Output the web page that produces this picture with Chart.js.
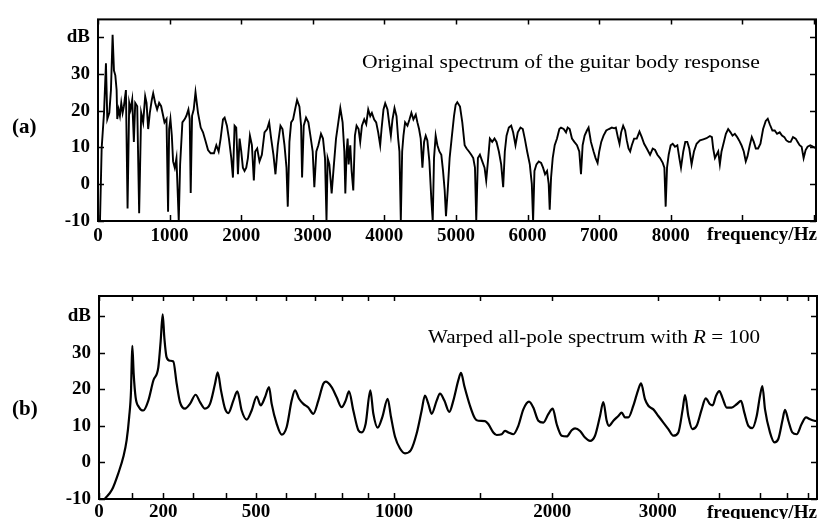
<!DOCTYPE html>
<html>
<head>
<meta charset="utf-8">
<script src="https://cdn.jsdelivr.net/npm/chart.js@4.4.0/dist/chart.umd.min.js"></script>
<style>
  body { margin: 0; background: #fff; width: 821px; height: 519px; position: relative; overflow: hidden; font-family: "Liberation Serif", serif; color: #000; }
  .wrap { position: absolute; left: 0; width: 821px; }
  canvas { display: block; }
  .lbl { position: absolute; white-space: nowrap; line-height: 1; transform-origin: left center; }
  .panel { font-size: 21px; font-weight: bold; }
  .title { font-size: 19px; }
  .unit { font-size: 19px; font-weight: bold; }
</style>
</head>
<body>
<div class="wrap" style="top:0;height:260px"><canvas id="chartA" width="821" height="260"></canvas></div>
<div class="wrap" style="top:260px;height:259px"><canvas id="chartB" width="821" height="259"></canvas></div>

<div class="lbl panel" style="left:12px;top:116px">(a)</div>
<div class="lbl panel" style="left:12px;top:398px">(b)</div>
<div class="lbl title fit" data-w="398" style="left:362px;top:52px">Original spectrum of the guitar body response</div>
<div class="lbl title fit" data-w="332" style="left:428px;top:327px">Warped all-pole spectrum with <i>R</i> = 100</div>
<div class="lbl unit fit" data-w="110" style="left:707px;top:224px">frequency/Hz</div>
<div class="lbl unit fit" data-w="110" style="left:707px;top:502px">frequency/Hz</div>

<script>
// (a) original spectrum, frequency in Hz / level in dB
const freqA = [28,51,84,111,130,158,181,204,223,242,260,269,288,306,325,344,362,390,413,436,455,478,501,520,548,575,603,631,659,678,
  701,724,752,771,799,826,854,882,910,929,957,979,994,1012,1031,1049,1073,1096,1128,1147,1179,1212,1235,1263,1281,1295,1314,1337,1362,1397,
  1435,1467,1500,1537,1574,1620,1653,1685,1713,1746,1769,1801,1829,1862,1885,1908,1931,1955,1978,2001,2024,2047,2071,2094,2122,2150,2177,2196,2224,2256,
  2289,2326,2363,2391,2419,2451,2479,2512,2549,2577,2605,2633,2651,2674,2698,2725,2753,2781,2814,2837,2851,2874,2906,2939,2967,2999,3022,3050,3078,3115,
  3143,3171,3192,3208,3232,3264,3292,3325,3357,3385,3417,3441,3455,3473,3487,3501,3524,3543,3566,3589,3612,3640,3663,3687,3719,3747,3775,3803,3826,3858,
  3886,3914,3942,3961,3988,4012,4044,4072,4091,4114,4142,4170,4193,4211,4230,4249,4267,4290,4323,4351,4378,4406,4439,4462,4485,4508,4532,4555,4578,4601,
  4629,4657,4676,4694,4717,4741,4769,4796,4820,4843,4861,4885,4912,4940,4973,4996,5019,5057,5089,5122,5149,5182,5214,5242,5266,5284,5307,5335,5368,5400,
  5423,5451,5474,5507,5539,5567,5600,5632,5660,5683,5707,5739,5772,5799,5832,5864,5902,5934,5962,5995,6032,6060,6078,6097,6125,6157,6190,6217,6245,6273,
  6296,6310,6329,6352,6380,6412,6445,6468,6505,6538,6561,6589,6621,6654,6691,6723,6747,6770,6798,6830,6853,6886,6923,6951,6979,7002,7030,7062,7100,7137,
  7178,7211,7234,7262,7285,7308,7336,7364,7387,7411,7434,7457,7489,7526,7564,7596,7629,7666,7712,7749,7782,7814,7851,7889,7912,7930,7949,7972,8000,8028,
  8060,8093,8121,8144,8176,8204,8232,8260,8292,8325,8362,8409,8455,8501,8548,8576,8594,8618,8641,8664,8687,8710,8743,8771,8803,8836,8864,8896,8929,8956,
  8989,9021,9049,9072,9105,9133,9161,9189,9221,9254,9291,9328,9356,9384,9421,9453,9486,9523,9555,9588,9616,9648,9676,9709,9746,9774,9801,9829,9857,9885,
  9913,9950,9987,10020];
const levelA = [-10,9.7,19.4,32.9,17.7,19.4,25.6,40.6,30.9,29.6,25.6,17.7,20.3,18.6,22.1,19.4,21.2,25.6,-6.6,22.1,20.3,23.0,11.5,22.1,21.2,-7.9,19.4,16.8,23.9,22.1,
  15.0,19.4,23.0,24.7,22.1,20.3,22.1,21.2,18.6,16.8,17.7,-7.5,15.0,17.7,13.3,6.2,4.4,7.1,-10,5.3,16.8,17.7,18.6,20.3,17.7,-2.4,18.6,20.3,25.0,19.4,
  15.4,14.1,11.9,9.3,8.4,8.4,10.6,8.9,12.4,17.6,18.1,15.9,12.4,7.1,1.8,15.9,15.4,2.7,12.4,8.9,4.5,3.6,4.5,7.1,13.2,10.6,1.0,8.9,9.7,6.2,
  8.0,14.1,15.0,16.8,12.4,8.0,2.7,10.6,15.9,15.0,10.6,4.5,-6.1,11.5,16.8,17.6,20.3,22.9,21.1,15.9,1.8,15.9,18.1,16.8,13.2,8.9,-0.8,8.9,10.6,13.7,
  12.4,7.1,-10,7.1,5.4,-2.5,4.5,12.4,16.8,20.7,16.8,8.9,-2.5,8.9,12.4,5.4,10.6,3.6,-1.7,13.2,15.9,15.0,11.5,15.9,17.6,16.3,20.3,18.5,19.4,17.6,
  16.8,14.1,10.6,15.0,20.3,22.0,20.3,15.9,13.2,17.6,20.7,18.5,12.4,8.9,-10,8.9,13.2,16.8,15.9,17.6,19.4,17.6,18.9,16.8,15.0,12.4,4.5,11.5,13.2,11.9,
  6.2,-4.3,-10,7.1,13.2,10.6,8.9,8.0,3.6,-1.7,-8.7,-1.7,7.1,12.4,18.5,21.6,22.3,21.1,16.8,10.6,9.7,8.9,8.0,7.1,4.5,-10,7.1,8.0,6.2,4.5,
  1.0,7.1,12.4,11.5,12.4,11.5,8.9,5.4,-0.8,8.9,13.2,15.4,15.9,14.1,10.6,14.1,15.4,15.0,12.4,8.9,5.4,0.1,-10,3.6,5.4,6.2,5.8,4.5,2.7,3.6,
  0.1,-6.9,1.8,7.1,10.6,12.4,15.0,15.4,15.0,14.1,15.4,15.0,12.4,11.5,10.6,8.9,2.7,10.6,13.2,14.6,15.4,11.5,8.9,7.1,5.8,8.9,11.5,13.2,14.6,15.0,
  15.4,15.2,15.4,12.8,11.0,14.1,15.9,14.6,11.9,9.7,8.9,10.6,12.4,12.4,14.3,12.8,11.0,9.7,8.0,9.7,9.3,8.0,7.1,5.8,4.5,-6.1,4.5,8.0,10.6,11.0,
  10.2,10.6,7.1,4.5,8.9,11.5,11.5,9.7,5.4,8.9,11.0,11.9,12.2,12.5,13.1,12.8,9.7,7.1,8.0,8.9,5.4,8.9,11.5,13.7,15.0,14.1,13.2,13.7,12.8,11.9,
  10.6,8.9,6.2,7.5,10.6,12.8,11.5,9.7,9.7,11.0,15.0,17.2,17.8,16.3,14.6,14.6,13.7,14.1,13.2,12.8,11.9,11.5,11.5,12.8,12.4,11.5,10.6,10.2,7.1,9.3,
  10.2,10.6,10.2,9.9];

// (b) warped all-pole spectrum, position on the warped frequency axis (0..1000) / level in dB
const warpB = [8,18,27,34,38.5,42,44.6,45.5,46.4,48.3,51,55.7,61.7,68.7,75.7,82.6,85.9,88.7,91,94.2,
  98.9,103.5,108.2,112.8,119.8,126.7,134.6,140.7,147.6,154.6,161.6,165.3,169.9,175.5,180.1,187.1,192.7,198.7,205.7,212.6,
  219.6,225.2,231.2,236.8,240.5,247.4,254.4,261.4,268.3,273,278.6,284.6,291.5,298.5,305.5,312.4,315.7,324,331,338,
  343.5,348.2,354.2,361.2,365.8,371.4,377.9,382.1,388.1,394.6,402,406.7,412.3,419.2,426.2,434.5,442.4,449.4,454,458.7,
  463.3,470.3,474.9,481,487.9,493.5,500.5,504.2,508.8,516.7,523.7,528.3,537.6,542.2,549.2,553.8,560.8,565.5,570.1,577.1,
  584,591,598.9,604.9,611.9,618.8,625.8,631.9,637.4,644.4,651.4,658.3,663,670,676.9,683.9,690.8,697.8,702.4,707.1,
  710.3,716.4,723.3,728,732.6,737.2,744.2,751.2,754.9,760.4,765.1,772.1,779,786,792.9,799.9,806.9,812.9,816.2,820.8,
  826.4,832.4,839.4,845,851,854.7,859.3,864,868.6,874.2,881.2,888.1,894.2,898.8,904.4,910,916,920.6,923.9,927.6,
  934.5,940.6,946.1,952.2,955.4,960.1,965.6,971.6,978.6,984.7,990.3,996.3,1000];
const levelB = [-10,-7.5,-2.9,1.6,6.1,12.4,19.7,26.9,31.9,24.2,17.8,15.1,14.2,16.9,22.4,26.0,33.2,40.5,34.1,28.7,
  27.8,27.6,21.5,16.5,14.7,16.0,18.5,16.5,14.7,16.0,21.5,24.6,19.7,14.7,13.5,16.9,19.4,14.2,11.7,14.2,
  18.0,15.6,17.8,20.6,16.0,10.6,7.6,9.7,16.9,19.7,17.4,16.0,15.0,13.3,16.9,21.5,22.1,20.6,17.8,15.1,
  16.9,19.4,14.2,8.8,8.2,10.6,19.7,13.3,9.5,12.4,17.4,12.4,7.0,3.8,2.5,3.4,7.9,14.2,18.3,16.0,
  13.3,16.9,18.8,16.9,13.8,16.9,22.5,24.5,20.9,15.5,12.0,11.4,11.3,10.5,8.2,7.5,7.7,8.6,8.2,7.7,
  10.0,14.5,16.6,15.0,11.4,10.9,13.2,14.7,10.5,7.3,7.1,8.8,9.3,8.6,6.8,5.9,7.3,12.7,16.5,11.4,
  10.0,11.4,12.7,13.6,12.3,12.3,15.5,20.0,21.6,17.3,15.5,14.5,12.7,10.9,9.1,7.3,8.2,14.5,18.4,12.7,
  9.1,10.0,14.5,17.5,15.9,15.6,18.2,19.5,17.5,15.0,15.0,15.9,16.8,13.6,10.0,9.4,12.7,18.2,20.9,14.5,
  8.2,5.5,6.4,11.8,14.4,11.4,8.2,7.7,10.5,12.3,11.8,11.4,11.3];

// ticks
const tickDb = [-10, 0, 10, 20, 30, 40];
const tickFreqA = [0, 1000, 2000, 3000, 4000, 5000, 6000, 7000, 8000, 9000, 10000];
const tickPosB = [0, 45.5, 89.6, 131.3, 176.5, 218.7, 260.4, 300.8, 338.9, 375.1, 410.9, 530.6, 631.3, 778.1, 863.5, 920.6, 958.6, 987.9];
const tickLabelB = ['0', '', '200', '', '', '500', '', '', '', '', '1000', '', '2000', '3000', '', '', '', ''];

const tickFont = { family: '"Liberation Serif", serif', size: 19, weight: 'bold' };

// box round the plot with short inward ticks on all four sides
const frame = {
  id: 'frame',
  afterDraw(chart) {
    const { ctx, chartArea: a, scales: { x, y } } = chart;
    ctx.save();
    ctx.strokeStyle = '#000';
    ctx.lineWidth = 2;
    ctx.strokeRect(a.left, a.top, a.right - a.left, a.bottom - a.top);
    ctx.lineWidth = 1.5;
    ctx.beginPath();
    x.ticks.forEach(t => {
      const px = Math.round(x.getPixelForValue(t.value)) + 0.5;
      ctx.moveTo(px, a.bottom); ctx.lineTo(px, a.bottom - 6);
      ctx.moveTo(px, a.top); ctx.lineTo(px, a.top + 5);
    });
    y.ticks.forEach(t => {
      const py = Math.round(y.getPixelForValue(t.value)) + 0.5;
      ctx.moveTo(a.left, py); ctx.lineTo(a.left + 6, py);
      ctx.moveTo(a.right, py); ctx.lineTo(a.right - 6, py);
    });
    ctx.stroke();
    ctx.restore();
  }
};

const makeChart = (canvas, xs, ys, opts) => new Chart(document.getElementById(canvas), {
  type: 'line',
  data: {
    datasets: [{
      data: xs.map((v, i) => ({ x: v, y: ys[i] })),
      borderColor: '#000',
      borderWidth: opts.lineWidth,
      pointRadius: 0,
      tension: 0,
      cubicInterpolationMode: opts.smooth ? 'monotone' : 'default'
    }]
  },
  options: {
    responsive: false,
    animation: false,
    layout: { padding: opts.padding },
    plugins: { legend: { display: false }, tooltip: { enabled: false } },
    scales: {
      x: {
        type: 'linear', min: 0, max: opts.xMax,
        grid: { display: false, drawTicks: false }, border: { display: false },
        afterBuildTicks: s => { s.ticks = opts.xTicks.map(v => ({ value: v })); },
        afterFit: s => { s.height = opts.xHeight; },
        ticks: { padding: opts.xPad, autoSkip: false, maxRotation: 0, color: '#000', font: tickFont, callback: opts.xLabel }
      },
      y: {
        min: -10, max: opts.yMax,
        grid: { display: false, drawTicks: false }, border: { display: false },
        afterBuildTicks: s => { s.ticks = tickDb.map(v => ({ value: v })); },
        afterFit: s => { s.width = opts.yWidth; },
        ticks: { padding: 8, color: '#000', font: tickFont, callback: v => v === 40 ? 'dB' : String(v) }
      }
    }
  },
  plugins: [frame]
});

makeChart('chartA', freqA, levelA, {
  lineWidth: 1.9, smooth: false, xMax: 10030, xTicks: tickFreqA, xHeight: 39, xPad: 4, yMax: 44.8, yWidth: 98,
  padding: { top: 14, right: 5, left: 0, bottom: 0 },
  xLabel: v => v <= 8000 ? String(v) : ''
});

makeChart('chartB', warpB, levelB, {
  lineWidth: 2.2, smooth: true, xMax: 1000, xTicks: tickPosB, xHeight: 20, xPad: 2, yMax: 45.5, yWidth: 99,
  padding: { top: 36, right: 4, left: 0, bottom: 0 },
  xLabel: (v, i) => tickLabelB[i]
});

// the scan is a little stretched sideways: fit each text to its width in the picture
document.querySelectorAll('.fit').forEach(el => {
  const w = el.getBoundingClientRect().width;
  el.style.transform = 'scaleX(' + (Number(el.dataset.w) / w).toFixed(3) + ')';
});
</script>
</body>
</html>
